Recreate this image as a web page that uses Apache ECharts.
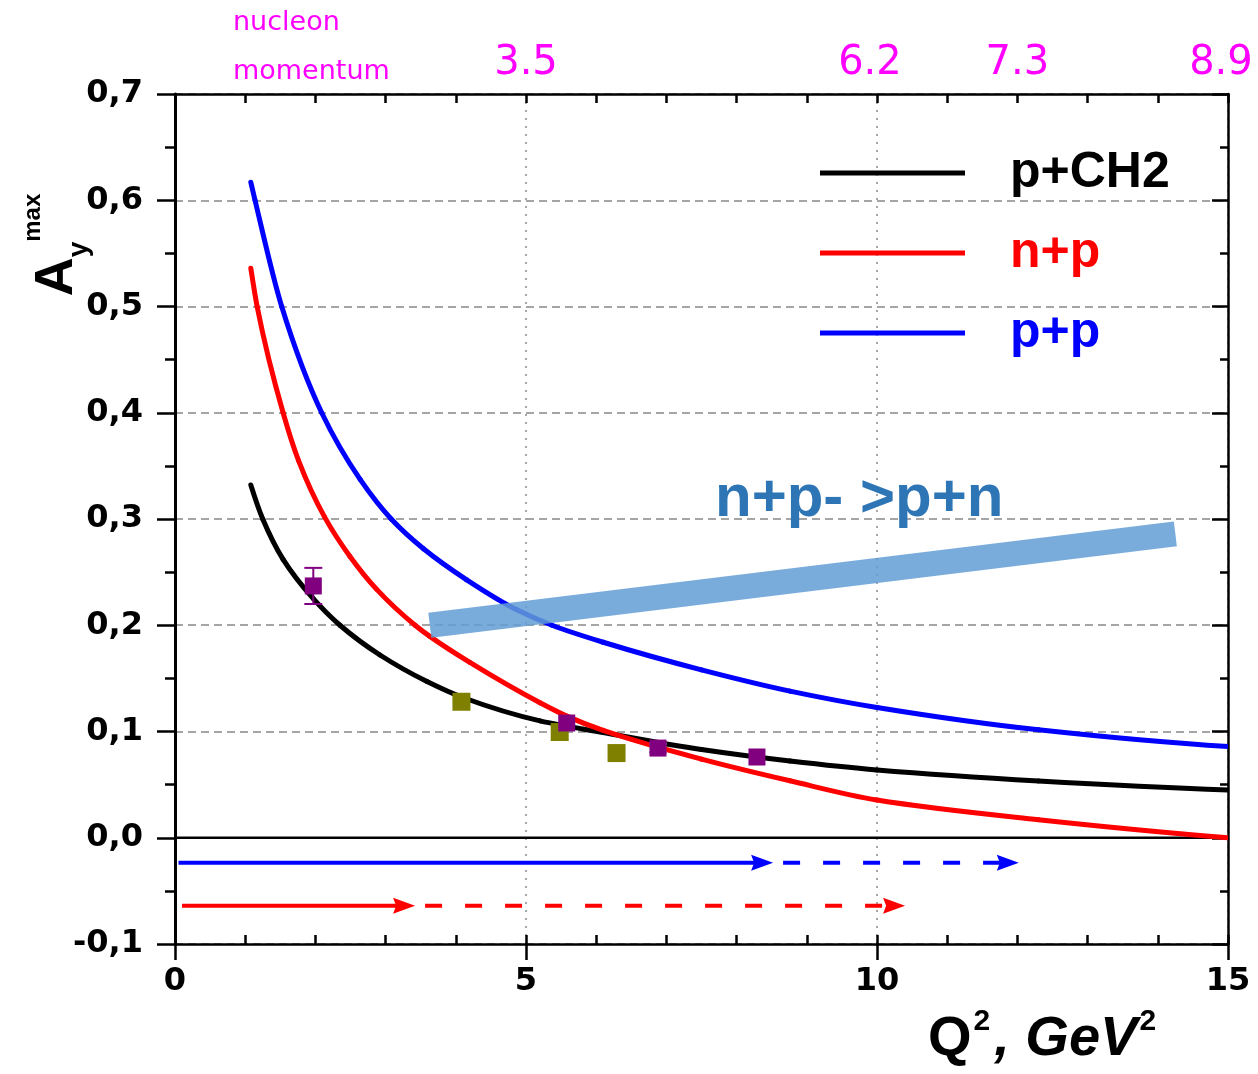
<!DOCTYPE html>
<html><head><meta charset="utf-8">
<script src="https://cdn.jsdelivr.net/npm/echarts@6/dist/echarts.min.js"></script>
<style>html,body{margin:0;padding:0;background:#fff}#c{width:1258px;height:1074px}</style>
</head><body><div id="c"></div>
<script>
// ---- data ----
const seriesNames = ['p+CH2', 'n+p', 'p+p'];
const seriesColors = ['#000000', '#ff0000', '#0000ff'];
const curvePCH2 = [[1.08,0.332],[1.25,0.300],[1.54,0.262],[1.97,0.225],[2.35,0.200],[2.92,0.172],[3.59,0.147],[4.1,0.132],[5.2,0.110],[6.1,0.099],[7.5,0.083],[8.76,0.0722],[10,0.0638],[12.3,0.0535],[15,0.045]];
const curveNP   = [[1.08,0.536],[1.17,0.500],[1.54,0.400],[1.76,0.355],[2.13,0.302],[2.49,0.265],[2.87,0.234],[3.42,0.200],[3.63,0.1895],[4.2,0.165],[5.2,0.127],[5.58,0.1145],[6.1,0.101],[7.5,0.074],[8.76,0.0536],[10,0.0355],[12.3,0.017],[15,0.0]];
const curvePP   = [[1.08,0.617],[1.14,0.600],[1.52,0.500],[2.09,0.400],[2.64,0.337],[3.08,0.300],[3.54,0.272],[4.15,0.243],[4.87,0.2145],[5.37,0.200],[6.1,0.184],[7.5,0.158],[8.76,0.138],[10,0.1226],[12.3,0.1016],[15,0.0858]];
const pointsPurple = [[1.97,0.237],[5.58,0.108],[6.88,0.0844],[8.29,0.076]];
const errorsPurple = [0.017, 0, 0.004, 0];
const pointsOlive = [[4.08,0.128],[5.48,0.0995],[6.29,0.0797]];
const bandNPtoPN = [[3.63,0.200],[14.25,0.286]];
const zeroLine = [[0,0],[15,0]];
// arrows: [start, solid end (arrow tip), dashed end (arrow tip), y]
const arrowBlue = [0.05, 8.52, 12.02, -0.0235];
const arrowRed  = [0.10, 3.42, 10.40, -0.064];
const xTickValues = [0, 5, 10, 15];
const topLabelPositions = [5, 9.9, 12, 14.9];
const topLabelTexts = ['3.5', '6.2', '7.3', '8.9'];

const curves = [curvePCH2, curveNP, curvePP];
const chart = echarts.init(document.getElementById('c'));
const tickFont = {fontFamily:'DejaVu Sans', fontWeight:'bold', fontSize:32, color:'#000'};
const axLine = {show:true, onZero:false, lineStyle:{color:'#000', width:2.5}};

// monotone cubic (PCHIP) tangents in pixel space
function pchipTangents(P) {
  const n = P.length, h = [], d = [], m = new Array(n).fill(0);
  for (let k = 0; k < n - 1; k++) { h[k] = P[k+1][0] - P[k][0]; d[k] = (P[k+1][1] - P[k][1]) / h[k]; }
  for (let k = 1; k < n - 1; k++) {
    if (d[k-1] * d[k] <= 0) { m[k] = 0; continue; }
    const w1 = 2 * h[k] + h[k-1], w2 = h[k] + 2 * h[k-1];
    m[k] = (w1 + w2) / (w1 / d[k-1] + w2 / d[k]);
  }
  const endSlope = (h0, h1, d0, d1) => {
    let s = ((2 * h0 + h1) * d0 - h0 * d1) / (h0 + h1);
    if (s * d0 <= 0) s = 0; else if (d0 * d1 <= 0 && Math.abs(s) > Math.abs(3 * d0)) s = 3 * d0;
    return s;
  };
  m[0] = endSlope(h[0], h[1], d[0], d[1]);
  m[n-1] = endSlope(h[n-2], h[n-3], d[n-2], d[n-3]);
  return m;
}

function curveRender(ci) {
  return function (params, api) {
    const i = params.dataIndex;
    const src = curves[ci];
    if (i >= src.length - 1) return null;
    const P = src.map(p => api.coord(p));
    const m = pchipTangents(P);
    const a = P[i], b = P[i+1], hh = (b[0] - a[0]) / 3;
    return {type:'bezierCurve', shape:{x1:a[0], y1:a[1], x2:b[0], y2:b[1],
      cpx1:a[0] + hh, cpy1:a[1] + m[i] * hh, cpx2:b[0] - hh, cpy2:b[1] - m[i+1] * hh},
      style:{stroke:seriesColors[ci], lineWidth:5, fill:null, lineCap:'round'}};
  };
}

function arrowRender(params, api) {
  const x0 = api.value(0), x1 = api.value(1), x2 = api.value(2), y = api.value(3);
  const p0 = api.coord([x0, y]), p1 = api.coord([x1, y]), p2 = api.coord([x2, y]);
  const color = params.dataIndex === 0 ? '#0000ff' : '#ff0000';
  const L = 22, H = 8;
  const head = (p) => ({type:'polygon', shape:{points:[[p[0],p[1]],[p[0]-L,p[1]-H],[p[0]-L+3,p[1]],[p[0]-L,p[1]+H]]}, style:{fill:color}});
  return {type:'group', children:[
    {type:'line', shape:{x1:p0[0], y1:p0[1], x2:p1[0]-L+4, y2:p1[1]}, style:{stroke:color, lineWidth:4}},
    head(p1),
    {type:'line', shape:{x1:p1[0]+10, y1:p1[1], x2:p2[0]-L+4, y2:p2[1]}, style:{stroke:color, lineWidth:4, lineDash:[17,23]}},
    head(p2)
  ]};
}

function errRender(params, api) {
  const x = api.value(0), y = api.value(1), e = api.value(2);
  if (!e) return null;
  const top = api.coord([x, y + e]), bot = api.coord([x, y - e]);
  const c = params.dataIndex === 0 ? '#800080' : '#b266b2';
  const w = 9;
  return {type:'group', children:[
    {type:'line', shape:{x1:top[0], y1:top[1], x2:bot[0], y2:bot[1]}, style:{stroke:c, lineWidth:2}},
    {type:'line', shape:{x1:top[0]-w, y1:top[1], x2:top[0]+w, y2:top[1]}, style:{stroke:c, lineWidth:2}},
    {type:'line', shape:{x1:bot[0]-w, y1:bot[1], x2:bot[0]+w, y2:bot[1]}, style:{stroke:c, lineWidth:2}}
  ]};
}

const curveSeries = curves.map((d, i) => ({
  name: seriesNames[i], type:'custom', data:d, renderItem:curveRender(i), z:3, silent:true,
  clip:true, itemStyle:{color:seriesColors[i]}, encode:{x:0, y:1}
}));

chart.setOption({
  animation:false,
  backgroundColor:'#fff',
  grid:{left:175, right:30, top:94, bottom:130},
  legend:{
    orient:'vertical', left:820, top:143, padding:0, itemWidth:145, itemHeight:5, itemGap:20,
    icon:'rect', selectedMode:false,
    textStyle:{fontFamily:'Liberation Sans', fontWeight:'bold', fontSize:50, lineHeight:60, padding:[0,0,0,40]},
    data: seriesNames.map((n, i) => ({name:n, itemStyle:{color:seriesColors[i]}, textStyle:{color:seriesColors[i]}}))
  },
  xAxis:[
    {type:'value', position:'bottom', min:0, max:15, interval:5,
     axisLine:axLine, axisTick:{show:true, inside:false, length:16, lineStyle:{color:'#000', width:2.5}},
     axisLabel:Object.assign({margin:22, formatter:(v)=> xTickValues.includes(v) ? String(v) : ''}, tickFont),
     splitLine:{show:true, lineStyle:{color:'#a8a8a8', width:2, type:[2,6]}}},
    {type:'value', position:'bottom', min:0, max:15, interval:1,
     axisLine:{show:false, onZero:false}, axisTick:{show:true, inside:true, length:9, lineStyle:{color:'#000', width:2.5}},
     axisLabel:{show:false}, splitLine:{show:false}},
    {type:'value', position:'top', min:0, max:15, interval:1,
     axisLine:axLine, axisTick:{show:true, inside:true, length:9, lineStyle:{color:'#000', width:2.5}},
     axisLabel:{show:true, customValues:topLabelPositions, margin:10, fontFamily:'DejaVu Sans', fontSize:40, color:'#ff00ff',
       formatter:(v)=>{const k = topLabelPositions.indexOf(v); return k >= 0 ? topLabelTexts[k] : '';}},
     splitLine:{show:false}}
  ],
  yAxis:[
    {type:'value', position:'left', min:-0.1, max:0.7, interval:0.1,
     axisLine:{show:true, onZero:false, lineStyle:{color:'#000', width:3}},
     axisTick:{show:true, inside:false, length:18, lineStyle:{color:'#000', width:2.5}},
     minorTick:{show:true, splitNumber:2, length:10, lineStyle:{color:'#000', width:2.5}},
     axisLabel:Object.assign({margin:32, formatter:(v)=> v.toFixed(1).replace('.', ',')}, tickFont),
     splitLine:{show:true, lineStyle:{color:'#888', width:1.5, type:[8,5]}}},
    {type:'value', position:'right', min:-0.1, max:0.7, interval:0.1,
     axisLine:axLine,
     axisTick:{show:true, inside:true, length:16, lineStyle:{color:'#000', width:2.5}},
     minorTick:{show:true, splitNumber:2, length:8, lineStyle:{color:'#000', width:2.5}},
     axisLabel:{show:false}, splitLine:{show:false}}
  ],
  series:[
    {type:'line', data:zeroLine, symbol:'none', silent:true, z:2, lineStyle:{color:'#000', width:2.5}},
    ...curveSeries,
    {type:'line', data:bandNPtoPN, symbol:'none', silent:true, z:4,
     lineStyle:{color:'#629dd5', width:25, opacity:0.85, cap:'butt'}},
    {type:'custom', renderItem:errRender, z:5, silent:true,
     data: pointsPurple.map((p, i) => [p[0], p[1], errorsPurple[i]])},
    {type:'scatter', data:pointsOlive, symbol:'rect', symbolSize:18, z:6, itemStyle:{color:'#808000', opacity:1}},
    {type:'scatter', data:pointsPurple, symbol:'rect', symbolSize:17, z:6, itemStyle:{color:'#800080', opacity:1}},
    {type:'custom', renderItem:arrowRender, z:6, silent:true, data:[arrowBlue, arrowRed]}
  ],
  graphic:[
    {type:'text', left:233, top:9, silent:true, style:{text:'nucleon', fontFamily:'DejaVu Sans', fontSize:27, fill:'#ff00ff'}},
    {type:'text', left:233, top:58, silent:true, style:{text:'momentum', fontFamily:'DejaVu Sans', fontSize:27, fill:'#ff00ff'}},
    {type:'text', x:715, y:499, silent:true, z:10,
     style:{text:'n+p- >p+n', fontFamily:'Liberation Sans', fontWeight:'bold', fontSize:60, fill:'#2e75b6', align:'left', verticalAlign:'middle'}},
    {type:'text', x:928, y:1040, silent:true,
     style:{text:'{q|Q}{s|2}{b|, GeV}{s|2}', align:'left', verticalAlign:'middle',
       rich:{
         q:{fontFamily:'Liberation Sans', fontWeight:'bold', fontSize:56, lineHeight:66, verticalAlign:'middle', fill:'#000'},
         b:{fontFamily:'Liberation Sans', fontWeight:'bold', fontStyle:'italic', fontSize:56, lineHeight:66, verticalAlign:'middle', fill:'#000'},
         s:{fontFamily:'Liberation Sans', fontWeight:'bold', fontSize:30, lineHeight:30, verticalAlign:'top', fill:'#000', padding:[0,4,0,2]}
       }}},
    {type:'text', x:57, y:245, rotation:Math.PI/2, silent:true,
     style:{text:'{a|A}{b|y}{c|max}', align:'center', verticalAlign:'middle',
       rich:{
         a:{fontFamily:'Liberation Sans', fontWeight:'bold', fontSize:54, lineHeight:72, verticalAlign:'middle', fill:'#000'},
         b:{fontFamily:'Liberation Sans', fontWeight:'bold', fontSize:28, lineHeight:28, verticalAlign:'bottom', fill:'#000'},
         c:{fontFamily:'Liberation Sans', fontWeight:'bold', fontSize:24, lineHeight:24, verticalAlign:'top', fill:'#000'}
       }}}
  ]
});
</script>
</body></html>
